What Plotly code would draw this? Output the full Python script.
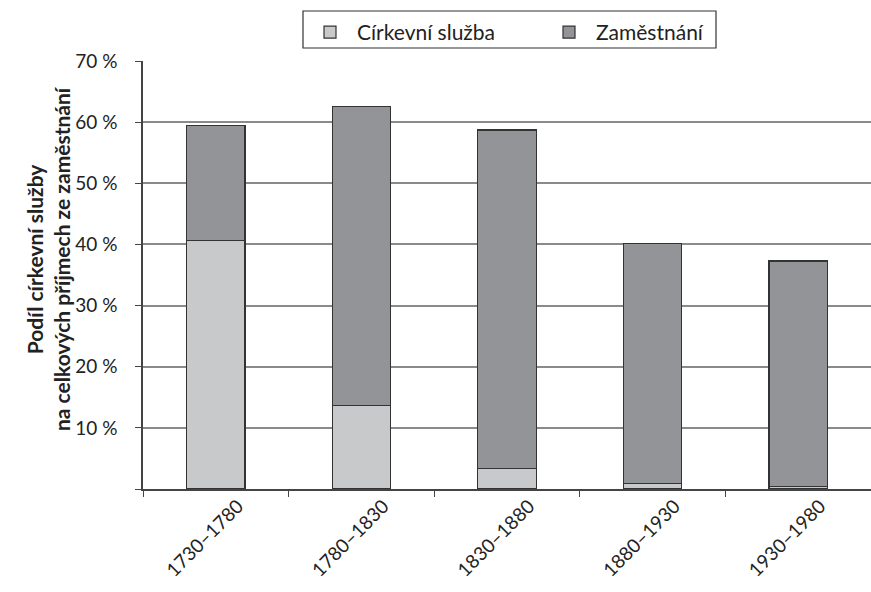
import plotly.graph_objects as go

categories = ["1730–1780", "1780–1830", "1830–1880", "1880–1930", "1930–1980"]
cirkevni = [40.6, 13.7, 3.4, 0.9, 0.4]
zamestnani_total = [59.4, 62.6, 58.7, 40.2, 37.3]
zamestnani = [round(t - c, 2) for t, c in zip(zamestnani_total, cirkevni)]
y_ticks = [0, 10, 20, 30, 40, 50, 60, 70]
y_ticktext = ["", "10 %", "20 %", "30 %", "40 %", "50 %", "60 %", "70 %"]
y_title = "<b>Podíl církevní služby<br>na celkových příjmech ze zaměstnání</b>"

FONT = "Lato"
line_col = "#333333"

# plot area in pixels: x 143..871, y 61..489
def px_x(p):
    return (p - 143) / 728.0

def px_y(p):
    return (489 - p) / 428.0

fig = go.Figure()
fig.add_trace(go.Bar(x=categories, y=cirkevni, name="Církevní služba",
                     marker=dict(color="#c8c9cb", line=dict(color=line_col, width=1.2))))
fig.add_trace(go.Bar(x=categories, y=zamestnani, name="Zaměstnání",
                     marker=dict(color="#939497", line=dict(color=line_col, width=1.2))))

fig.update_layout(
    barmode="stack",
    bargap=0.6,
    width=871, height=592,
    margin=dict(l=143, r=0, t=61, b=103),
    plot_bgcolor="white", paper_bgcolor="white",
    font=dict(family=FONT, size=19, color="#222222"),
    legend=dict(orientation="h", x=px_x(303), xanchor="left", y=px_y(12), yanchor="top",
                borderwidth=0, bgcolor="rgba(0,0,0,0)",
                font=dict(family=FONT, size=21, style="normal", weight="normal", color="#222222"),
                traceorder="normal", entrywidth=180, itemwidth=44),
    showlegend=True,
    shapes=[dict(type="rect", xref="paper", yref="paper",
                 x0=px_x(303), x1=px_x(716), y0=px_y(48), y1=px_y(11),
                 line=dict(color="#333333", width=1.2), fillcolor="rgba(0,0,0,0)")],
    annotations=[dict(text=y_title, xref="paper", yref="paper",
                      x=px_x(48), y=px_y(259), xanchor="center", yanchor="middle",
                      textangle=-90, showarrow=False, font=dict(size=21, color="#222222"))],
)
fig.update_yaxes(range=[0, 70], tickvals=y_ticks, ticktext=y_ticktext,
                 showgrid=True, gridcolor="#8a8a8a", gridwidth=1.5,
                 showline=True, linecolor="#444444", linewidth=1.5,
                 ticks="outside", ticklen=6, tickcolor="#444444",
                 ticklabelstandoff=14, zeroline=False)
fig.update_xaxes(showline=True, linecolor="#444444", linewidth=1.5,
                 ticks="outside", ticklen=6, tickcolor="#444444", tickson="boundaries",
                 tickangle=-45, showgrid=False, tickfont=dict(size=19),
                 ticklabelshift=22, ticklabelstandoff=-3)

fig.write_html("out.html", config={"displayModeBar": False},
               post_script="document.body.style.margin='0';document.body.style.padding='0';")
